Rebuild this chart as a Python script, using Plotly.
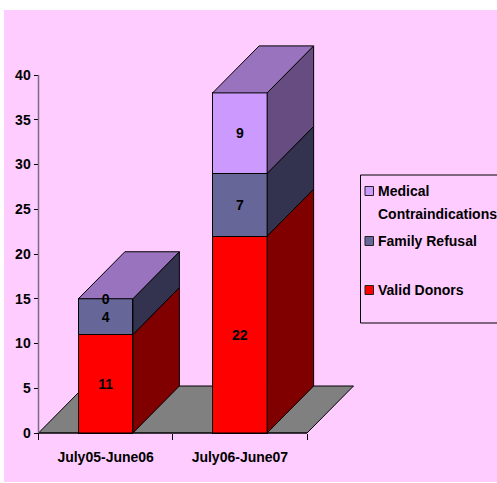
import plotly.graph_objects as go

categories = ["July05-June06", "July06-June07"]
valid_donors = [11, 22]
family_refusal = [4, 7]
medical_contra = [0, 9]
y_ticks = [0, 5, 10, 15, 20, 25, 30, 35, 40]
series_names = ["Valid Donors", "Family Refusal", "Medical Contraindications"]
legend_lines = ["Medical", "Contraindications", "Family Refusal", "Valid Donors"]

W, H = 497, 483
L, R, T, B = 38.5, 307.0, 75.0, 433.0
FONT = "Liberation Sans, Arial, sans-serif"
BLACK = "#000000"

front = ["#FF0000", "#666699", "#CC99FF"]
side = ["#800000", "#333350", "#664C80"]
top_col = "#9973BD"

px_per_cat = (R - L) / 2
px_per_val = (B - T) / 40
DX = 46.5 / px_per_cat
DY = 47 / px_per_val
bargap = 0.594
HW = (1 - bargap) / 2

def fx(p): return -0.5 + (p - L) / px_per_cat
def fy(p): return (B - p) / px_per_val

series = [valid_donors, family_refusal, medical_contra]
xs = list(range(len(categories)))

fig = go.Figure()

for vals, name, col in zip(series, series_names, front):
    fig.add_trace(go.Bar(x=xs, y=vals, name=name, marker=dict(color=col, line=dict(color=BLACK, width=1)),
                         showlegend=False, hoverinfo="skip"))

lx, ly, lt = [], [], []
label_nudge = 1.5 / px_per_val
for i in xs:
    base = 0
    for s, vals in enumerate(series):
        v = vals[i]
        if v > 0:
            r = i + HW
            fig.add_trace(go.Scatter(
                x=[r, r + DX, r + DX, r, r], y=[base, base + DY, base + v + DY, base + v, base],
                mode="lines", fill="toself", fillcolor=side[s], line=dict(color=BLACK, width=1),
                showlegend=False, hoverinfo="skip"))
        lx.append(i); ly.append(base + v / 2 - label_nudge); lt.append(str(v))
        base += v
    l, r = i - HW, i + HW
    fig.add_trace(go.Scatter(
        x=[l, r, r + DX, l + DX, l], y=[base, base, base + DY, base + DY, base],
        mode="lines", fill="toself", fillcolor=top_col, line=dict(color=BLACK, width=1),
        showlegend=False, hoverinfo="skip"))

fig.add_trace(go.Scatter(x=lx, y=ly, text=lt, mode="text", textposition="middle center",
                         textfont=dict(family=FONT, size=14, color=BLACK, weight="bold"),
                         showlegend=False, hoverinfo="skip"))

shapes = [
    dict(type="rect", xref="paper", yref="paper", x0=4 / W, x1=1, y0=1 / H, y1=(H - 10) / H,
         fillcolor="#FFCCFF", line_width=0, layer="below"),
    dict(type="path", xref="x", yref="y", layer="below", fillcolor="#808080", line=dict(color=BLACK, width=1),
         path=f"M-0.5,0 L1.5,0 L{1.5 + DX},{DY} L{-0.5 + DX},{DY} Z"),
    dict(type="line", xref="x", yref="y", x0=-0.5, x1=1.5, y0=0, y1=0, line=dict(color=BLACK, width=1)),
    dict(type="line", xref="x", yref="y", x0=-0.5, x1=-0.5, y0=0, y1=40, line=dict(color="#7A6A85", width=1.5)),
    dict(type="rect", xref="x", yref="y", x0=fx(360.5), x1=fx(W + 3), y0=fy(323), y1=fy(175),
         fillcolor="rgba(0,0,0,0)", line=dict(color=BLACK, width=1)),
]

swatch_colors = front[::-1]
swatch_y = [191, 241, 290]
for col, sy in zip(swatch_colors, swatch_y):
    shapes.append(dict(type="rect", xref="x", yref="y", x0=fx(365), x1=fx(373.5), y0=fy(sy + 4.5), y1=fy(sy - 4.5),
                       fillcolor=col, line=dict(color="#222222", width=1)))

annotations = []
text_y = [191, 214, 241, 290]
for name, ty in zip(legend_lines, text_y):
    annotations.append(dict(xref="x", yref="y", x=fx(378), y=fy(ty), text=name, showarrow=False, xanchor="left",
                            yanchor="middle", align="left", xshift=-2,
                            font=dict(family=FONT, size=14, color=BLACK, weight="bold")))

fig.update_layout(
    width=W, height=H, autosize=False, barmode="stack", bargap=bargap,
    paper_bgcolor="#FFFFFF", plot_bgcolor="rgba(0,0,0,0)", showlegend=False,
    margin=dict(l=0, r=0, t=0, b=0), shapes=shapes, annotations=annotations,
    font=dict(family=FONT, color=BLACK),
    xaxis=dict(domain=[0, 1], range=[fx(0), fx(W)], anchor="free", position=(H - B) / H,
               tickvals=xs, ticktext=categories, ticks="", ticklabelstandoff=14,
               showgrid=False, zeroline=False, showline=False,
               tickfont=dict(family=FONT, size=14, color=BLACK, weight="bold"),
               minor=dict(tickvals=[-0.5, 0.5, 1.5], ticks="outside", ticklen=6, tickcolor=BLACK, tickwidth=1, showgrid=False)),
    yaxis=dict(domain=[0, 1], range=[fy(H), fy(0)], anchor="free", position=L / W,
               tickvals=y_ticks, ticks="outside", ticklen=5, tickcolor=BLACK, tickwidth=1,
               showgrid=False, zeroline=False, showline=False,
               tickfont=dict(family=FONT, size=14, color=BLACK, weight="bold")),
)

fig.write_html("out.html", config=dict(displayModeBar=False),
               post_script="document.body.style.margin='0';document.documentElement.style.overflow='hidden';")
